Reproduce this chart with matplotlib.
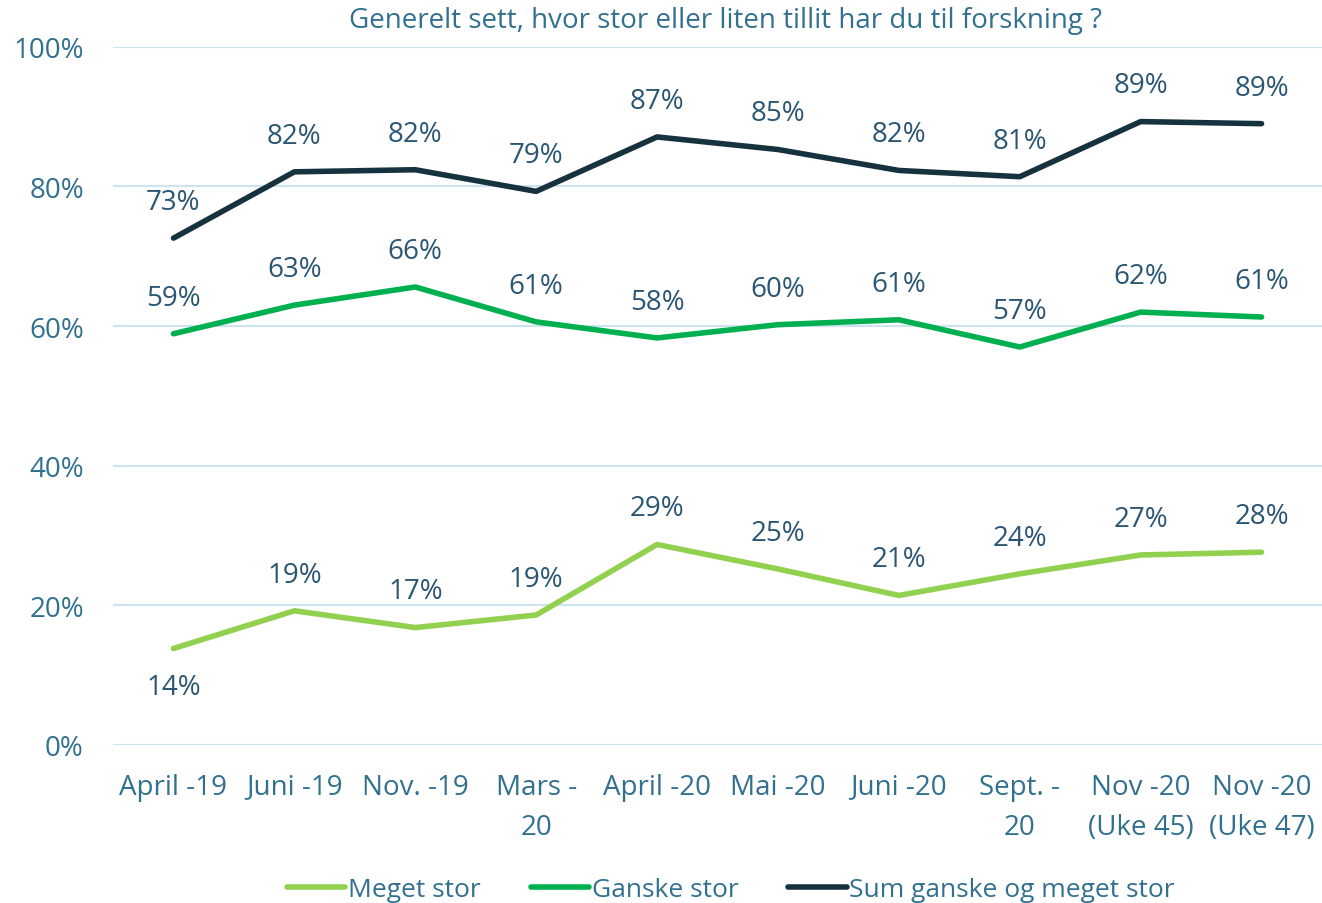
import matplotlib.pyplot as plt

# Kategorier og verdier (lest av fra figuren)
categories = ['April -19', 'Juni -19', 'Nov. -19', 'Mars -\n20', 'April -20', 'Mai -20',
              'Juni -20', 'Sept. -\n20', 'Nov -20\n(Uke 45)', 'Nov -20\n(Uke 47)']
meget_stor = [13.8, 19.2, 16.8, 18.6, 28.7, 25.2, 21.4, 24.5, 27.2, 27.6]
ganske_stor = [58.9, 63.0, 65.6, 60.6, 58.3, 60.2, 60.9, 57.0, 62.0, 61.3]
sum_stor = [72.6, 82.1, 82.4, 79.3, 87.1, 85.3, 82.3, 81.4, 89.3, 89.0]
y_ticks = [0, 20, 40, 60, 80, 100]

plt.rcParams['font.family'] = ['Open Sans', 'DejaVu Sans']
axis_col = '#31708f'
label_col = '#2a5674'

fig = plt.figure(figsize=(13.22, 9.04), dpi=100)
ax = fig.add_axes([0.0855, 0.175, 0.9145, 0.772])

x = range(len(categories))
series = [
    (meget_stor, '#92d050', 'Meget stor'),
    (ganske_stor, '#00b050', 'Ganske stor'),
    (sum_stor, '#17323f', 'Sum ganske og meget stor'),
]
for vals, col, name in series:
    ax.plot(x, vals, color=col, lw=4, label=name, solid_capstyle='round', zorder=3)
    for i, v in enumerate(vals):
        off = -28 if (name == 'Meget stor' and i == 0) else 26
        ax.annotate(f'{round(v):.0f}%', (i, v), xytext=(0, off), textcoords='offset points',
                    ha='center', va='center', fontsize=20, color=label_col)

ax.set_xlim(-0.5, len(categories) - 0.5)
ax.set_ylim(0, 100)
ax.set_yticks(y_ticks)
ax.set_yticklabels([f'{t}%' for t in y_ticks])
ax.set_xticks(list(x))
ax.set_xticklabels(categories, linespacing=1.6)
ax.tick_params(axis='both', length=0, labelsize=20, colors=axis_col)
ax.tick_params(axis='x', pad=20)
ax.tick_params(axis='y', pad=21)
ax.grid(axis='y', color='#cde3f0', lw=1.5)
ax.set_axisbelow(True)
for s in ax.spines.values():
    s.set_visible(False)

fig.text(0.549, 0.977, 'Generelt sett, hvor stor eller liten tillit har du til forskning ?',
         ha='center', va='center', fontsize=20, color=axis_col)

leg = fig.legend(loc='center', bbox_to_anchor=(0.553, 0.015), ncol=3, frameon=False,
                 fontsize=19, handlelength=2.2, handletextpad=0.1, columnspacing=1.9)
for t in leg.get_texts():
    t.set_color(axis_col)

fig.savefig('out.png', dpi=100)
